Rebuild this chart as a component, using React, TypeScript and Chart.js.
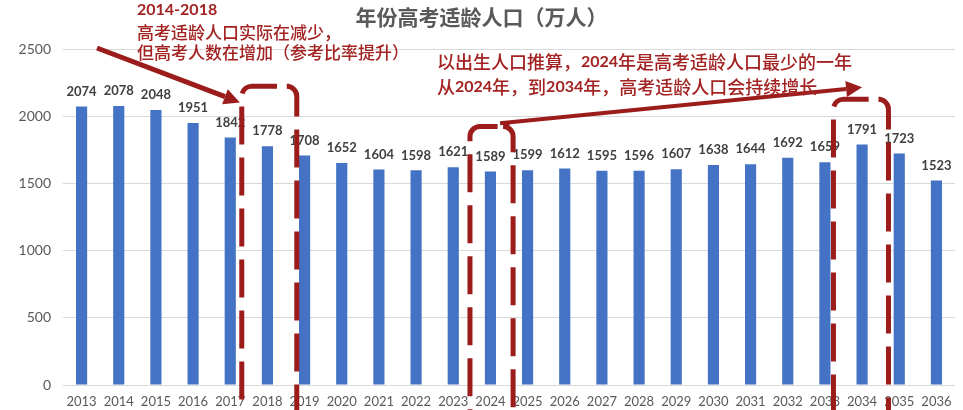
import { useEffect, useRef } from 'react';
import { Chart, registerables } from 'chart.js';
import type { Plugin } from 'chart.js';

Chart.register(...registerables);

const years = [
  '2013', '2014', '2015', '2016', '2017', '2018', '2019', '2020', '2021', '2022', '2023', '2024',
  '2025', '2026', '2027', '2028', '2029', '2030', '2031', '2032', '2033', '2034', '2035', '2036',
];
const population = [
  2074, 2078, 2048, 1951, 1842, 1778, 1708, 1652, 1604, 1598, 1621, 1589,
  1599, 1612, 1595, 1596, 1607, 1638, 1644, 1692, 1659, 1791, 1723, 1523,
];
const yTicks = [0, 500, 1000, 1500, 2000, 2500];

const chartTitle = '年份高考适龄人口（万人）';
const leftNote = ['2014-2018', '高考适龄人口实际在减少，', '但高考人数在增加（参考比率提升）'];
const rightNote = ['以出生人口推算，2024年是高考适龄人口最少的一年', '从2024年，到2034年，高考适龄人口会持续增长'];

// dashed brackets: category index range and top value
const brackets = [
  { from: 4.31, to: 5.79, top: 2224 },
  { from: 10.45, to: 11.61, top: 1925 },
  { from: 20.23, to: 21.71, top: 2127 },
];

const RED = '#9c1c1c';
const TEXT_RED = '#a32222';
const CJK = '"Noto Sans CJK SC", sans-serif';

function drawArrow(ctx: CanvasRenderingContext2D, x0: number, y0: number, x1: number, y1: number, w: number) {
  const ang = Math.atan2(y1 - y0, x1 - x0);
  const head = 16;
  const hx = x1 - Math.cos(ang) * head;
  const hy = y1 - Math.sin(ang) * head;
  ctx.setLineDash([]);
  ctx.lineWidth = w;
  ctx.beginPath();
  ctx.moveTo(x0, y0);
  ctx.lineTo(hx, hy);
  ctx.stroke();
  ctx.beginPath();
  ctx.moveTo(x1, y1);
  ctx.lineTo(hx + Math.sin(ang) * 8, hy - Math.cos(ang) * 8);
  ctx.lineTo(hx - Math.sin(ang) * 8, hy + Math.cos(ang) * 8);
  ctx.closePath();
  ctx.fill();
}

function drawMixed(ctx: CanvasRenderingContext2D, text: string, x: number, y: number) {
  let cx = x;
  text.split(/(\d+)/).forEach((part) => {
    if (!part) return;
    ctx.font = /\d/.test(part) ? 'bold 16px Lato, sans-serif' : `500 18px ${CJK}`;
    ctx.fillText(part, cx, y);
    cx += ctx.measureText(part).width;
  });
}

const annotations: Plugin<'bar'> = {
  id: 'annotations',
  beforeDraw(chart) {
    const { ctx } = chart;
    ctx.save();
    ctx.fillStyle = '#ffffff';
    ctx.fillRect(0, 0, chart.width, chart.height);
    ctx.restore();
  },
  afterDatasetsDraw(chart) {
    const { ctx } = chart;
    const xs = chart.scales.x;
    const ys = chart.scales.y;
    const meta = chart.getDatasetMeta(0);
    ctx.save();

    // value labels
    ctx.font = 'bold 13px Lato, sans-serif';
    ctx.fillStyle = '#404040';
    ctx.textAlign = 'center';
    ctx.textBaseline = 'middle';
    meta.data.forEach((bar, i) => {
      ctx.fillText(String(population[i]), bar.x, bar.y - 15);
    });

    // dashed brackets
    ctx.strokeStyle = RED;
    ctx.fillStyle = RED;
    ctx.lineWidth = 5;
    const bottom = chart.height;
    brackets.forEach((b) => {
      const x1 = xs.getPixelForValue(b.from);
      const x2 = xs.getPixelForValue(b.to);
      const top = ys.getPixelForValue(b.top);
      const r = 10;
      const topLen = (x2 - x1) * 0.64;
      ctx.setLineDash([38, 13]);
      ctx.beginPath();
      ctx.moveTo(x1 + topLen, top);
      ctx.arcTo(x1, top, x1, top + r, r);
      ctx.lineTo(x1, bottom);
      ctx.stroke();
      ctx.beginPath();
      ctx.moveTo(x1 + topLen + 12, top);
      ctx.arcTo(x2, top, x2, top + r, r);
      ctx.lineTo(x2, bottom);
      ctx.stroke();
    });

    // arrows
    drawArrow(ctx, 97, 48, xs.getPixelForValue(4.26), ys.getPixelForValue(2104), 5);
    drawArrow(ctx, xs.getPixelForValue(11.26), ys.getPixelForValue(1948), xs.getPixelForValue(21.0), ys.getPixelForValue(2216), 4);

    // notes
    ctx.fillStyle = TEXT_RED;
    ctx.textAlign = 'left';
    ctx.font = 'bold 16px Lato, sans-serif';
    ctx.fillText(leftNote[0], 137, 10);
    ctx.font = `500 17px ${CJK}`;
    ctx.fillText(leftNote[1], 137, 33);
    ctx.fillText(leftNote[2], 137, 53);
    drawMixed(ctx, rightNote[0], 437, 62);
    drawMixed(ctx, rightNote[1], 437, 87);

    ctx.restore();
  },
};

export default function App() {
  const canvasRef = useRef<HTMLCanvasElement>(null);
  const chartRef = useRef<Chart | null>(null);

  useEffect(() => {
    document.body.style.margin = '0';
    if (!canvasRef.current) return;
    if (chartRef.current) chartRef.current.destroy();

    chartRef.current = new Chart(canvasRef.current, {
      type: 'bar',
      data: {
        labels: years,
        datasets: [
          {
            data: population,
            backgroundColor: '#4472c4',
            barPercentage: 0.3,
            categoryPercentage: 1,
          },
        ],
      },
      options: {
        responsive: true,
        maintainAspectRatio: false,
        animation: false,
        layout: { padding: { left: 8, right: 8, top: 0, bottom: 0 } },
        plugins: {
          legend: { display: false },
          tooltip: { enabled: false },
          title: {
            display: true,
            text: chartTitle,
            color: '#595959',
            font: { family: CJK, size: 21, weight: 'bold' },
            padding: { top: 4, bottom: 20 },
          },
        },
        scales: {
          x: {
            grid: { display: false, drawTicks: false },
            border: { display: false },
            afterFit: (axis) => {
              axis.height = 25;
            },
            ticks: {
              color: '#595959',
              font: { family: 'Lato, sans-serif', size: 13 },
              padding: 9,
              maxRotation: 0,
              autoSkip: false,
            },
          },
          y: {
            min: 0,
            max: 2500,
            afterBuildTicks: (axis) => {
              axis.ticks = yTicks.map((v) => ({ value: v }));
            },
            afterFit: (axis) => {
              axis.width = 55;
            },
            grid: { color: '#d9d9d9', lineWidth: 1, drawTicks: false },
            border: { display: false },
            ticks: {
              color: '#595959',
              font: { family: 'Lato, sans-serif', size: 14 },
              padding: 12,
              callback: (v) => String(v),
            },
          },
        },
      },
      plugins: [annotations],
    });

    return () => {
      chartRef.current?.destroy();
      chartRef.current = null;
    };
  }, []);

  return (
    <div style={{ position: 'relative', width: '963px', height: '410px' }}>
      <canvas ref={canvasRef}></canvas>
    </div>
  );
}
